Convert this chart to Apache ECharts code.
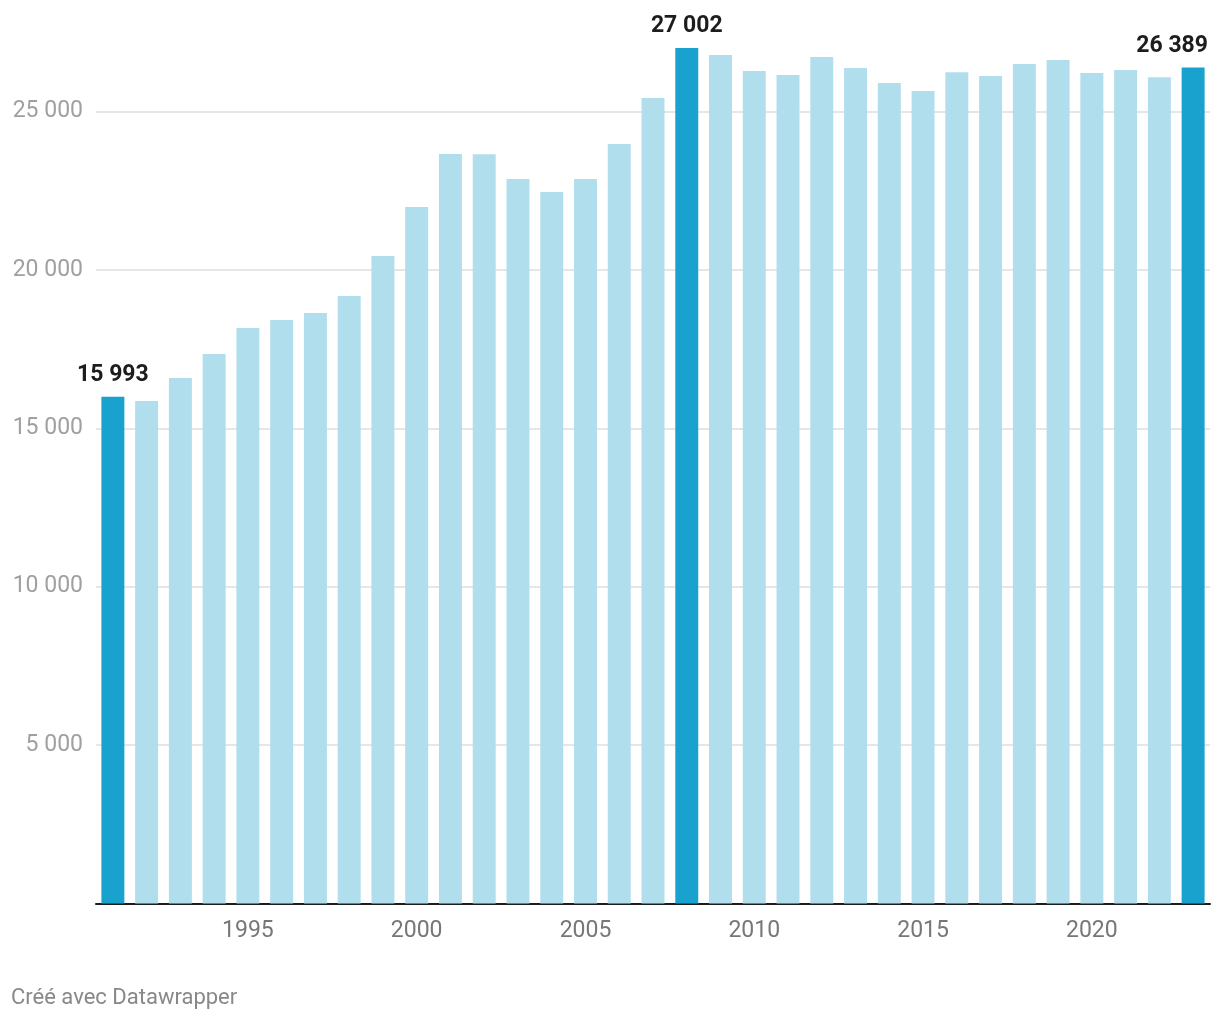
<!DOCTYPE html>
<html><head><meta charset="utf-8">
<script src="https://cdn.jsdelivr.net/npm/echarts@6/dist/echarts.min.js"></script>
<style>html,body{margin:0;padding:0;background:#fff}#c{width:1220px;height:1020px}</style>
</head><body><div id="c"></div>
<script>
const years = ['1991','1992','1993','1994','1995','1996','1997','1998','1999','2000','2001','2002','2003','2004','2005','2006','2007','2008','2009','2010','2011','2012','2013','2014','2015','2016','2017','2018','2019','2020','2021','2022','2023'];
const values = [15993,15860,16586,17344,18164,18417,18638,19174,20437,21984,23656,23650,22867,22457,22870,23972,25424,27002,26781,26276,26150,26718,26371,25897,25645,26244,26118,26497,26623,26213,26308,26086,26389];
const highlightYears = ['1991','2008','2023'];
const xTickYears = ['1995','2000','2005','2010','2015','2020'];
const yTicks = [0,5000,10000,15000,20000,25000];

const fmt = n => String(n).replace(/\B(?=(\d{3})+(?!\d))/g, ' ');
const LIGHT = '#b0deec', DARK = '#19a2cd';

const data = values.map((v, i) => {
  const hl = highlightYears.includes(years[i]);
  const item = { value: v, itemStyle: { color: hl ? DARK : LIGHT } };
  if (hl) {
    item.label = {
      show: true, position: 'top', distance: 10,
      formatter: p => fmt(p.value),
      fontFamily: 'Roboto', fontWeight: 'bold', fontSize: 23, color: '#1d1d1d',
      offset: i === values.length - 1 ? [-21, 0] : [0, 0]
    };
  }
  return item;
});

const chart = echarts.init(document.getElementById('c'), null, { renderer: 'canvas' });
chart.setOption({
  animation: false,
  backgroundColor: '#fff',
  grid: { left: 96, right: 10, top: 16.5, bottom: 116.5, containLabel: false },
  xAxis: {
    type: 'category', data: years,
    axisLine: { show: true, lineStyle: { color: '#1d1d1d', width: 2 } },
    axisTick: { show: false },
    axisLabel: {
      interval: (idx, val) => xTickYears.includes(val),
      fontFamily: 'Roboto', fontSize: 23, color: '#777', margin: 16
    }
  },
  yAxis: {
    type: 'value', min: 0, max: 28000, interval: 5000,
    axisLine: { show: false }, axisTick: { show: false },
    axisLabel: {
      formatter: v => (yTicks.includes(v) && v !== 0) ? fmt(v) : '',
      fontFamily: 'Roboto', fontSize: 23, color: '#a0a0a0', margin: 13
    },
    splitLine: { show: true, lineStyle: { width: 2, color: ['#e6e6e6','#e6e6e6','#e6e6e6','#e6e6e6','#e6e6e6','#e6e6e6','rgba(0,0,0,0)'] } }
  },
  series: [{
    type: 'bar', data: data, barCategoryGap: '32%',
    label: { show: false }
  }],
  graphic: [{
    type: 'text', left: 11, top: 987,
    style: { text: 'Créé avec Datawrapper', fontFamily: 'Roboto', fontSize: 22, fill: '#888' }
  }]
});
</script></body></html>
